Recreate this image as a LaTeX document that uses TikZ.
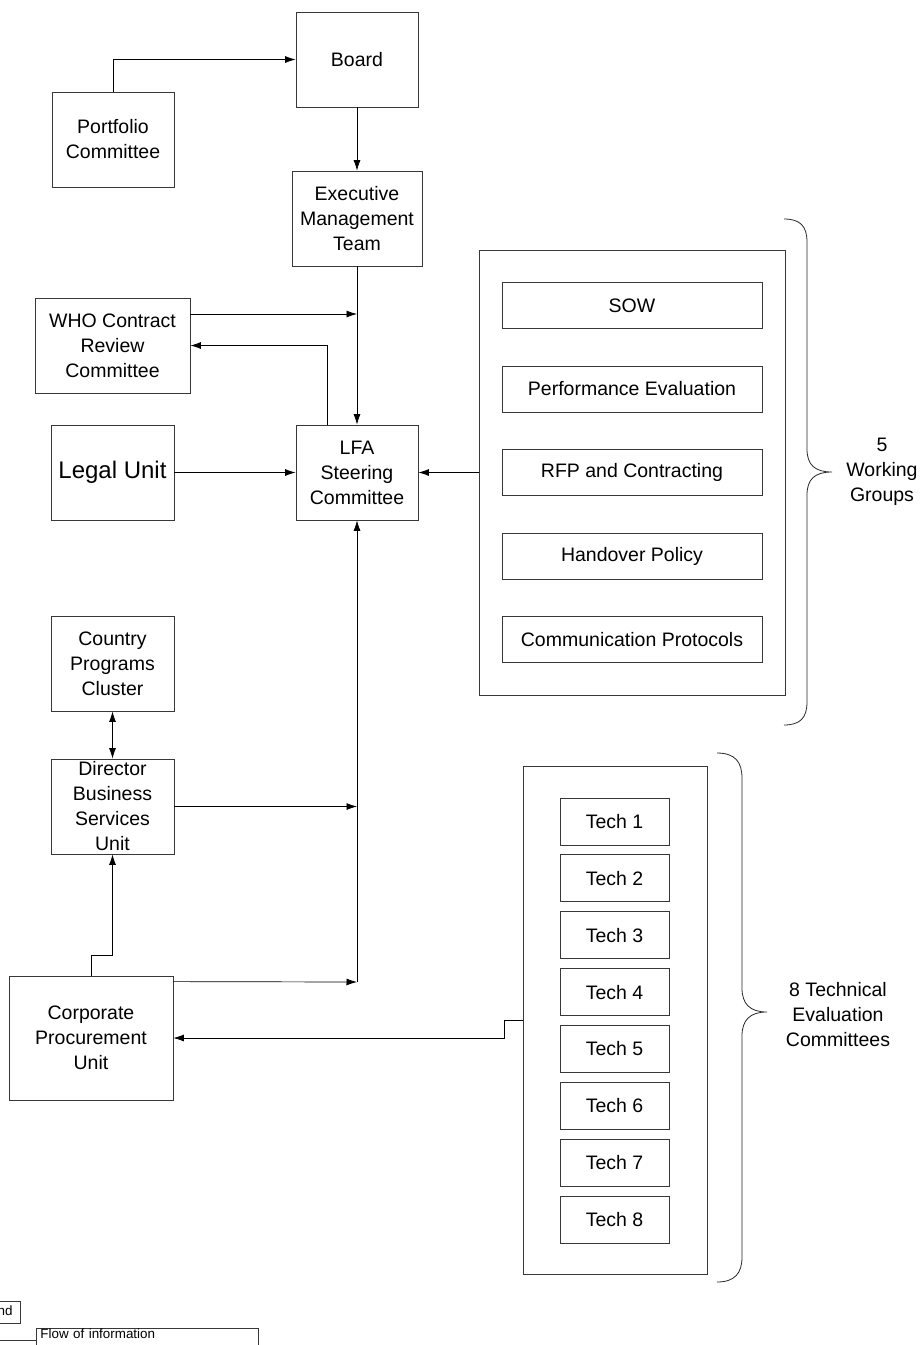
\documentclass[tikz,border=0pt]{standalone}
\usepackage{fontspec}
\setmainfont{Liberation Sans}
\usetikzlibrary{arrows.meta,calc}
\begin{document}
\begin{tikzpicture}[x=1pt,y=-1pt,
  box/.style={draw=black!78,line width=0.8pt,inner sep=0pt,align=center,
    font=\fontsize{19.5}{25}\selectfont},
  outer/.style={draw=black!78,line width=0.8pt,inner sep=0pt},
  arr/.style={draw=black,line width=0.7pt,-{Latex[length=10.5pt,width=7pt]}},
  darr/.style={draw=black,line width=0.7pt,{Latex[length=10.5pt,width=7pt]}-{Latex[length=10.5pt,width=7pt]}},
  brace/.style={draw=black!85,line width=0.8pt},
  lbl/.style={align=center,inner sep=0pt,font=\fontsize{19.5}{25}\selectfont},
  legtxt/.style={font=\fontsize{13.4}{15}\selectfont}]
\useasboundingbox (0,0) rectangle (923,1345);
% main boxes
\node[box,minimum width=122,minimum height=95] (board) at (357,59.5) {Board};
\node[box,minimum width=122,minimum height=95] (port) at (113,139.5) {Portfolio\\Committee};
\node[box,minimum width=130,minimum height=95] (exec) at (357,218.5) {Executive\\Management\\Team};
\node[box,minimum width=155,minimum height=95] (who) at (112.5,345.5) {WHO Contract\\Review\\Committee};
\node[box,minimum width=122,minimum height=95] (lfa) at (357,472.5) {LFA\\Steering\\Committee};
\node[box,minimum width=123,minimum height=95,font=\fontsize{24}{28}\selectfont] (legal) at (112.5,472.5) {Legal Unit};
\node[box,minimum width=123,minimum height=95] (cpc) at (112.5,663.5) {Country\\Programs\\Cluster};
\node[box,minimum width=123,minimum height=95] (dbsu) at (112.5,806.5) {Director\\Business\\Services\\Unit};
\node[box,minimum width=164,minimum height=124] (cpu) at (91,1038) {Corporate\\Procurement\\Unit};
% working groups
\node[outer,minimum width=306,minimum height=445] (wg) at (632,472.5) {};
\node[box,minimum width=260,minimum height=46] (sow) at (632,305.5) {SOW};
\node[box,minimum width=260,minimum height=46] (perf) at (632,389) {Performance Evaluation};
\node[box,minimum width=260,minimum height=46] (rfp) at (632,472.5) {RFP and Contracting};
\node[box,minimum width=260,minimum height=46] (hand) at (632,556) {Handover Policy};
\node[box,minimum width=260,minimum height=46] (comm) at (632,639.5) {Communication Protocols};
% technical committees
\node[outer,minimum width=184,minimum height=508] (teo) at (615,1020) {};
\foreach \k in {1,...,8}{
  \node[box,minimum width=109,minimum height=47] (tech\k) at (614.5,{821.5+56.86*(\k-1)}) {Tech \k};
}
% junction coordinates
\coordinate (j1) at (357,314);
\coordinate (j3) at (357,982);
% connectors
\draw[arr] (port.north) |- (board.west);
\draw[arr] (board.south) -- (exec.south |- exec.north);
\draw[arr] (exec.south) -- (lfa.north);
\draw[arr] ([yshift=31.5pt]who.east) -- (j1);
\draw[arr] ([xshift=-30pt]lfa.north) |- (who.east);
\draw[arr] (legal.east) -- (lfa.west);
\draw[arr] (wg.west) -- (lfa.east);
\draw[arr] (j3) -- (lfa.south);
\draw[arr] (dbsu.east) -- (dbsu.east -| lfa.south);
\draw[arr] ([yshift=-6pt]cpu.north east) -- (j3);
\draw[darr] (cpc.south) -- (dbsu.north);
\draw[arr] (cpu.north) -- ++(0,-20) -| (dbsu.south);
\draw[arr] (teo.west) -- ++(-18,0) |- (cpu.east);
% braces
\draw[brace] (784,219) .. controls (800,219) and (807,226) .. (807,242) -- (807,449)
  .. controls (807,465) and (815,472) .. (832,472)
  .. controls (815,472) and (807,479) .. (807,495) -- (807,702)
  .. controls (807,718) and (800,725) .. (784,725);
\draw[brace] (717,753) .. controls (735,753) and (742,762) .. (742,778) -- (742,988)
  .. controls (742,1004) and (750,1012) .. (767,1012)
  .. controls (750,1012) and (742,1020) .. (742,1036) -- (742,1257)
  .. controls (742,1273) and (735,1282) .. (717,1282);
\node[lbl] (wglbl) at (882,472) {5\\Working\\Groups};
\node[lbl] (telbl) at (838,1015) {8 Technical\\Evaluation\\Committees};
% legend
\node[draw=black!78,line width=0.8pt,anchor=east,legtxt,inner xsep=8pt,inner ysep=3pt,minimum height=22] (leg) at (21,1312) {Legend};
\node[draw=black!78,line width=0.8pt,anchor=north west,legtxt,minimum width=222,minimum height=40,text width=214,align=left,inner xsep=4pt,inner ysep=0pt,text depth=30pt] (flow) at (36,1328) {Flow of information};
\coordinate (lgs) at (-10,1340);
\draw[black!78,line width=0.8pt] (lgs) -- (lgs -| flow.west);
\end{tikzpicture}
\end{document}
